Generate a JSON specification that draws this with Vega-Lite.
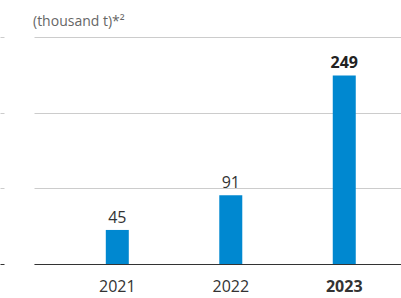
{
  "$schema": "https://vega.github.io/schema/vega-lite/v6.json",
  "width": 367,
  "height": 227,
  "autosize": "none",
  "padding": {"left": 34, "top": 37, "right": 0, "bottom": 34},
  "background": "white",
  "config": {"view": {"stroke": null}, "font": "Open Sans"},
  "title": {"text": "(thousand t)*²", "anchor": "start", "frame": "group", "fontSize": 14, "font": "Open Sans", "fontWeight": "normal", "color": "#666", "offset": 8, "dx": -1},
  "data": {"values": [
    {"year": "2021", "value": 45},
    {"year": "2022", "value": 91},
    {"year": "2023", "value": 249}
  ]},
  "encoding": {
    "x": {"field": "year", "type": "ordinal",
      "scale": {"paddingInner": 0, "paddingOuter": 0.117, "align": 1},
      "axis": {"title": null, "labelAngle": 0, "ticks": false, "domainColor": "#333", "domainWidth": 1.2,
        "labelFontSize": 16, "labelColor": "#333", "labelPadding": 14,
        "labelFontWeight": {"condition": {"test": "datum.value == '2023'", "value": "bold"}, "value": "normal"}}},
    "y": {"field": "value", "type": "quantitative",
      "scale": {"domain": [0, 300]},
      "axis": {"title": null, "labels": false, "domain": false, "values": [0, 100, 200, 300],
        "offset": 30, "tickSize": 4, "gridColor": "#cccccc",
        "tickColor": {"condition": {"test": "datum.value === 0", "value": "#333"}, "value": "#cccccc"}}}
  },
  "layer": [
    {"mark": {"type": "bar", "size": 23, "color": "#0088d0"}},
    {"transform": [{"filter": "datum.year != '2023'"}],
     "mark": {"type": "text", "baseline": "alphabetic", "dy": -7, "fontSize": 16, "color": "#333"},
     "encoding": {"text": {"field": "value", "type": "quantitative"}}},
    {"transform": [{"filter": "datum.year == '2023'"}],
     "mark": {"type": "text", "baseline": "alphabetic", "dy": -8, "fontSize": 16, "fontWeight": "bold", "color": "#222"},
     "encoding": {"text": {"field": "value", "type": "quantitative"}}}
  ]
}
